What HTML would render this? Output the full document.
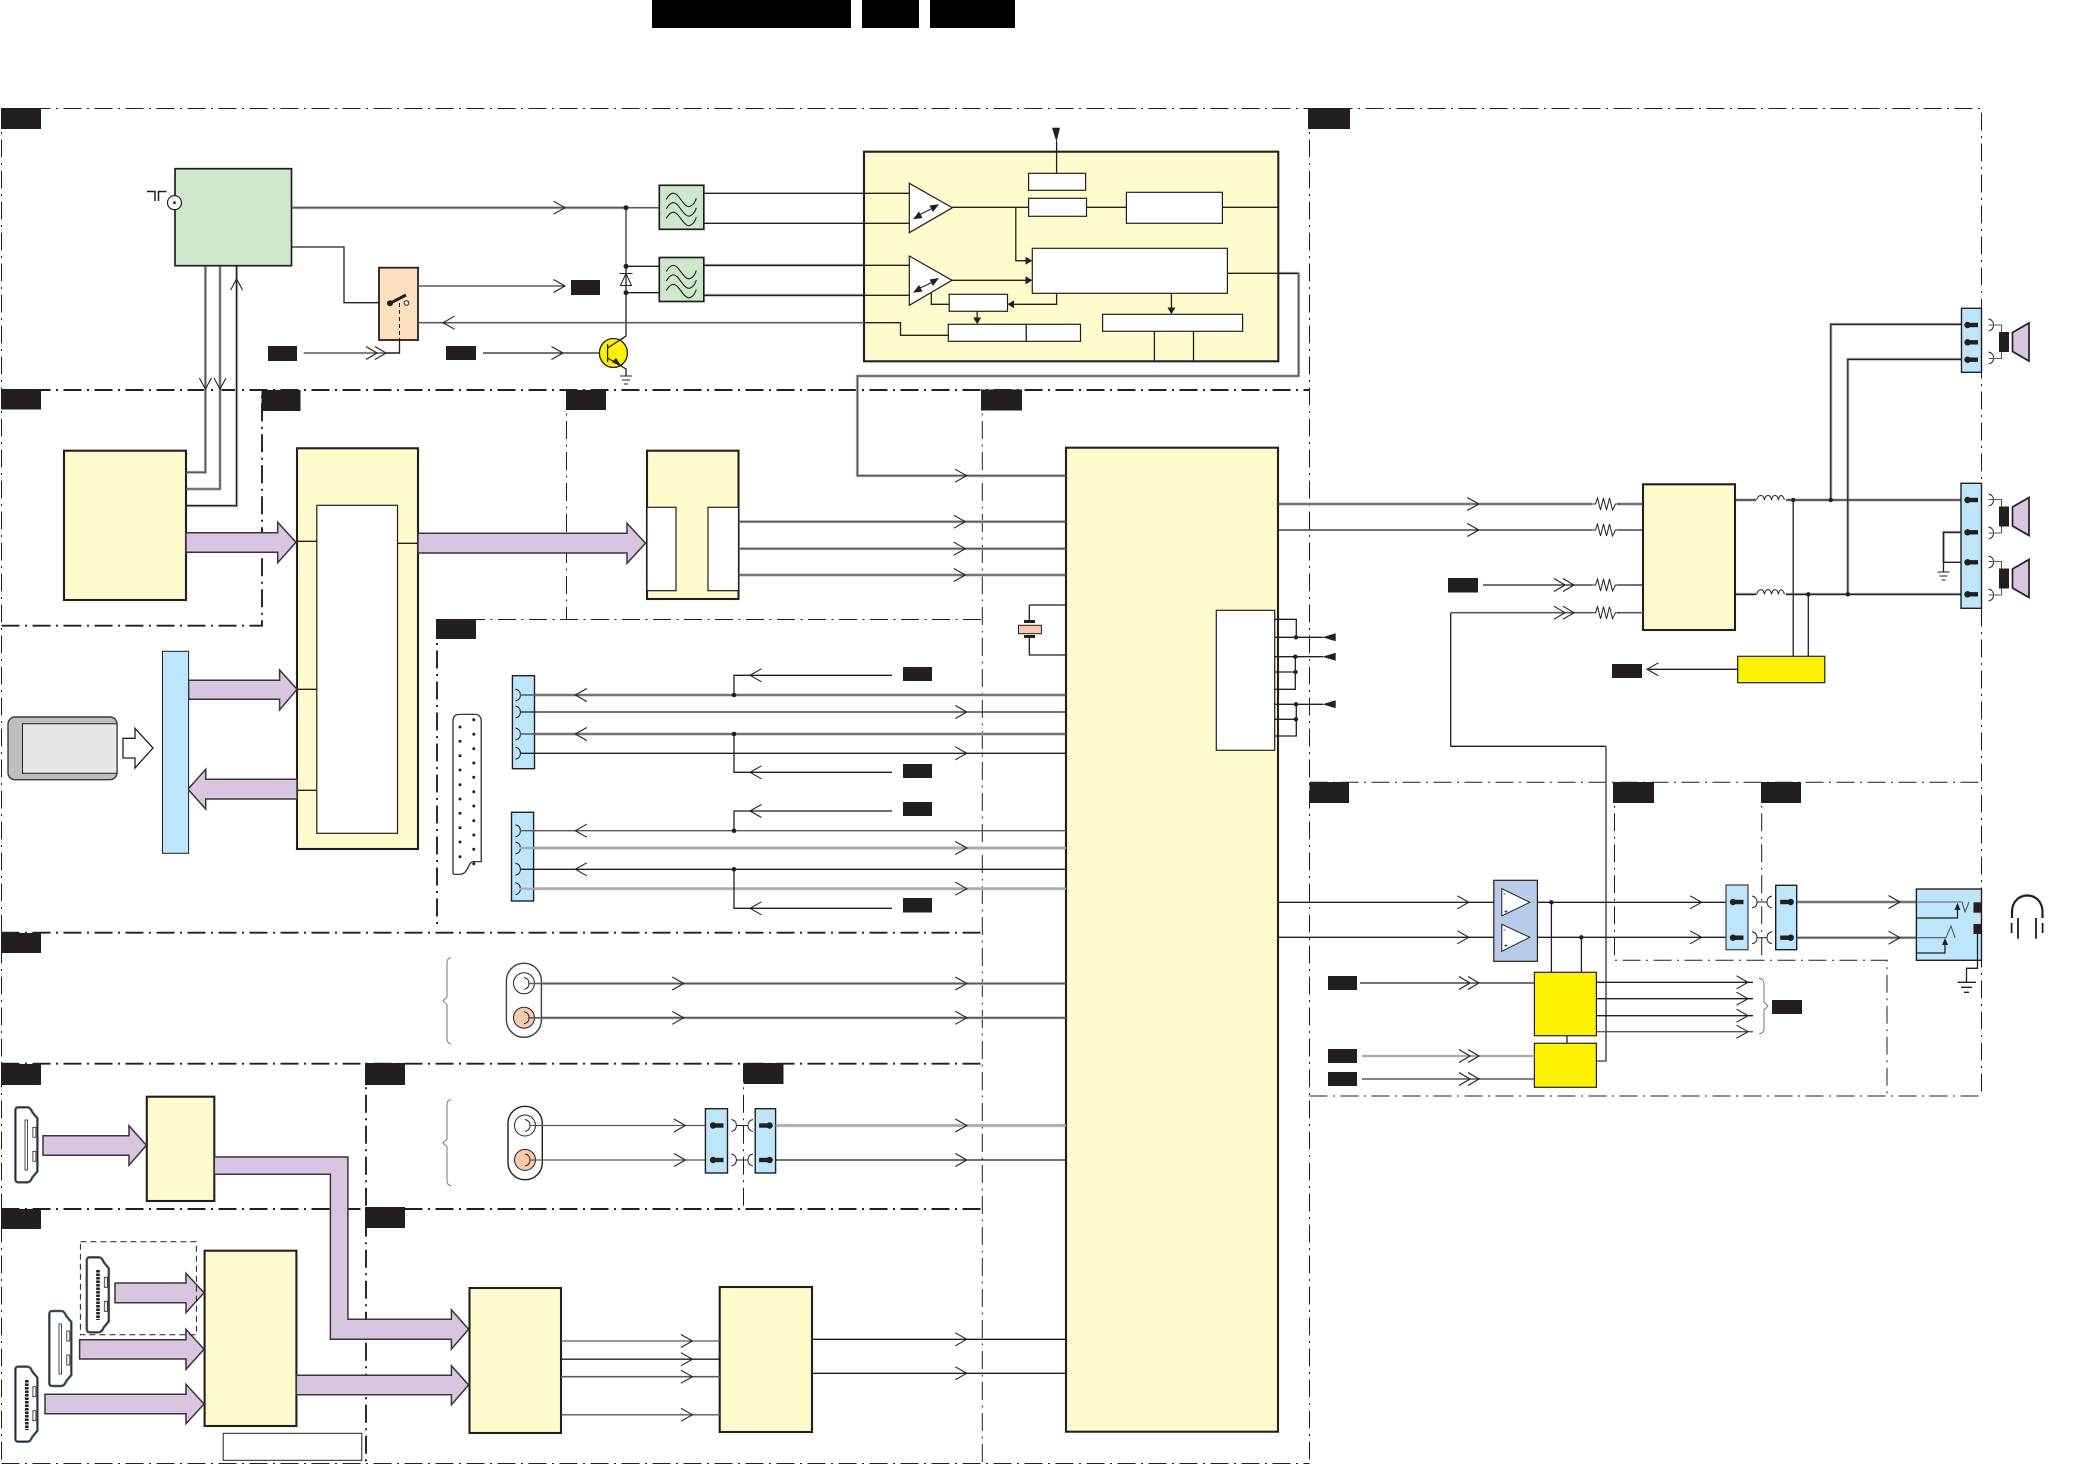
<!DOCTYPE html>
<html><head><meta charset="utf-8"><title>Block diagram</title>
<style>
html,body{margin:0;padding:0;background:#fff}
svg{display:block}
.l{stroke:#231f20;stroke-width:1.3;fill:none}
.t{stroke:#231f20;stroke-width:2;fill:none}
.m{stroke:#58595b;stroke-width:1.6;fill:none}
.h{stroke:#c4c5c6;stroke-width:3.2;fill:none}
.q{stroke:#a9aaab;stroke-width:2.2;fill:none}
.f1{stroke:#231f20;stroke-width:1;fill:none;stroke-dasharray:18 5.5 2 5.5}
.f2{stroke:#231f20;stroke-width:1.9;fill:none;stroke-dasharray:18 5.5 2 5.5}
.k{fill:#231f20;stroke:none}
.y{fill:#fffbcc;stroke:#231f20;stroke-width:2.1}
.w{fill:#fff;stroke:#231f20;stroke-width:1.2}
.g{fill:#cde8cb;stroke:#231f20;stroke-width:1.7}
.b{fill:#bde6fb;stroke:#231f20;stroke-width:1.4}
.p{fill:#d8c5e0;stroke:#3a3538;stroke-width:1.5}
.ye{fill:#fff200;stroke:#231f20;stroke-width:1.2}
.ar{stroke:#231f20;stroke-width:1.1;fill:none}
</style></head><body>
<svg width="2085" height="1468" viewBox="0 0 2085 1468" xmlns="http://www.w3.org/2000/svg">
<defs>
<path id="a" class="ar" d="M-11.500 -6.500L0 0L-11.500 6.500"/>
<path id="b" class="ar" d="M11.500 -6.500L0 0L11.500 6.500"/>
<path id="c" class="ar" d="M-6 -11L0 0L6 -11"/>
<path id="e" class="ar" d="M-6 11L0 0L6 11"/>
<g id="aa"><path class="ar" d="M-20 -6.500L-9 0L-20 6.500"/><path class="ar" d="M-11 -6.500L0 0L-11 6.500"/></g>
<path id="tr" class="k" d="M0 0L13.400 -4V4Z"/>
<g id="fi"><rect class="g" width="44.500" height="44"/><path class="l" d="M7 14C11 7 15 6 19 11S27 23 31 21S36 16 37 13M7 23.500C11 16.500 15 15.500 19 20.500S27 32.500 31 30.500S36 25.500 37 22.500M7 33C11 26 15 25 19 30S27 42 31 40S36 35 37 32" style="stroke-width:1.100"/></g>
<g id="pn"><circle class="k" r="3.200"/><rect class="k" y="-2.200" width="10.500" height="4.400"/></g>
<path id="cr" class="l" d="M0 -6Q5 -5 5 0Q5 5 0 6" style="stroke-width:1"/>
<path id="cl" class="l" d="M5 -6Q0 -5 0 0Q0 5 5 6" style="stroke-width:1"/>
<path id="res" class="l" d="M-14 0H-10L-8 -6L-5 6L-2 -6L1 6L4 -6L7 6L10 0H14" style="stroke-width:1"/>
<path id="ind" class="l" d="M-14 0C-12 -6 -7 -6 -6 0C-5 -6 0 -6 1 0C2 -6 7 -6 8 0C9 -6 12 -6 14 0" style="stroke-width:1"/>
<g id="gnd"><path class="l" d="M-6 0H6M-4 4H4M-2 8H2" style="stroke-width:1"/></g>
<g id="hd">
<path d="M3 0H12Q15 0 17 5L22 11V64L17 70Q15 75 12 75H3Q0 75 0 72V3Q0 0 3 0Z" fill="#fff" stroke="#5b7380" stroke-width="2.600"/>
<path d="M3 0H12Q15 0 17 5L22 11V64L17 70Q15 75 12 75H3Q0 75 0 72V3Q0 0 3 0Z" fill="none" stroke="#231f20" stroke-width=".9"/>
<rect class="w" x="17.500" y="20" width="3" height="10" style="stroke-width:.8"/><rect class="w" x="17.500" y="44" width="3" height="10" style="stroke-width:.8"/>
</g>
<g id="spk">
<path class="m" d="M0 -17H3M0 -17H13V-9M0 16.500H13V9" style="stroke-width:1.100"/>
<rect class="k" x="10.500" y="-10" width="10" height="20"/>
<path fill="#d8c5e0" stroke="#231f20" stroke-width="1.700" d="M24 -9.500L40.500 -19V19L24 9.500Z"/>
</g>
</defs>

<rect width="2085" height="1468" fill="#fff"/>

<!-- header -->
<rect x="652" y="0" width="199" height="28" fill="#000"/>
<rect x="862" y="0" width="57" height="28" fill="#000"/>
<rect x="930" y="0" width="85" height="28" fill="#000"/>

<!-- dashed frames -->
<path class="f1" d="M1.500 108.500H1981.500V1096M1.500 108.500V1463"/>
<path class="f2" d="M1.500 390H1309"/>
<path class="f1" d="M1309.500 108.500V1463M1.500 1463.500H1309.500"/>
<path class="f2" d="M1.500 625.700H262V390"/>
<path class="f1" d="M566.500 390V620"/>
<path class="f1" d="M436 619.500H982"/>
<path class="f2" d="M437 619.500V927"/>
<path class="f2" d="M1.500 932.700H982"/>
<path class="f2" d="M1.500 1063.700H982"/>
<path class="f2" d="M1.500 1209H982"/>
<path class="f2" d="M366 1063.700V1463"/>
<path class="f1" d="M982.300 390V1463"/>
<path class="f1" d="M743.500 1063.700V1209"/>
<path class="f1" d="M1309.500 782.300H1981.500"/>
<path class="f1" d="M1614.500 782.300V960.300H1887V1096"/>
<path class="f1" d="M1761.700 782.300V960"/>
<path class="f1" d="M1309.500 1096H1981.500"/>

<!-- tabs -->
<g class="k">
<rect x="1" y="108" width="40" height="21"/>
<rect x="1308" y="108" width="42" height="21"/>
<rect x="1" y="389" width="40" height="20.500"/>
<rect x="261.500" y="390" width="39" height="21"/>
<rect x="566" y="390" width="40" height="20"/>
<rect x="981" y="389.500" width="41" height="21"/>
<rect x="436" y="619" width="40" height="20"/>
<rect x="1" y="933" width="40" height="20"/>
<rect x="1" y="1064" width="40" height="21"/>
<rect x="365" y="1063" width="40" height="22"/>
<rect x="743.500" y="1063" width="40" height="21"/>
<rect x="1" y="1209" width="40" height="20"/>
<rect x="365" y="1207" width="40" height="21"/>
<rect x="1309.500" y="782" width="39.500" height="21"/>
<rect x="1613" y="782" width="41" height="21"/>
<rect x="1761" y="782" width="40" height="21"/>
<!-- labels -->
<rect x="571" y="280" width="29" height="15"/>
<rect x="268" y="346" width="29" height="15"/>
<rect x="446" y="346" width="30" height="14"/>
<rect x="903" y="667" width="29" height="14"/>
<rect x="903" y="764" width="29" height="14"/>
<rect x="903" y="802" width="29" height="14"/>
<rect x="903" y="898" width="29" height="14.500"/>
<rect x="1448" y="578" width="30" height="14.500"/>
<rect x="1612" y="664" width="30" height="14"/>
<rect x="1328" y="976" width="29" height="14"/>
<rect x="1328" y="1049" width="29" height="14"/>
<rect x="1328" y="1072" width="29" height="14"/>
<rect x="1772" y="1000" width="30" height="14"/>
</g>

<!-- halo lines -->
<g class="h">
<path d="M291.500 207.700H626"/>
<path d="M704 265.300H863M704 295.300H863"/>
<path d="M1278 273.300H1298.600V376H857.400V475.700H1066"/>
<path d="M205.400 266V472.300H186M220 266V489H186M236.600 266V505.700H186"/>
<path d="M738.500 521.700H1066M738.500 548.700H1066M738.500 575H1066"/>
<path d="M1278 504H1643"/>
<path d="M1735 500H1961M1735 594.300H1961"/>
<path d="M1830.800 500V324.300H1961M1847.800 594.300V359.300H1961"/>
<path d="M1943.500 562.300V532.300H1961"/>
<path d="M534 695H1066M534 734H1066"/>
<path d="M534 848H1066M534 888.700H1066"/>
<path d="M1797 902H1916M1797 937.700H1916"/>
<path d="M540 983.500H1066M540 1017.800H1066"/>
<path d="M776 1125.500H1066"/>
</g>

<!-- blocks -->
<rect class="g" x="175" y="168.700" width="116.500" height="97"/>
<rect x="379" y="267.700" width="39" height="72.300" fill="#fde0bf" stroke="#231f20" stroke-width="1.800"/>
<rect class="y" x="864" y="151.700" width="414.300" height="209.600"/>
<rect class="y" x="64" y="450.700" width="122" height="149.300"/>
<rect class="y" x="297" y="448.300" width="121" height="400.700"/>
<rect class="w" x="316.800" y="505.300" width="80.700" height="328"/>
<rect class="y" x="647" y="450.700" width="91.500" height="148.300"/>
<rect class="w" x="647" y="507.300" width="29" height="83.400"/>
<rect class="w" x="708" y="507.300" width="30.500" height="83.400"/>
<rect class="y" x="1066" y="447.700" width="212" height="984"/>
<rect class="w" x="1216.300" y="610.300" width="58.400" height="140"/>
<rect class="y" x="1643" y="484.300" width="92" height="145.700"/>
<rect class="y" x="146.800" y="1096.700" width="67.500" height="104.300"/>
<rect class="y" x="204.600" y="1250.700" width="91.800" height="175.300"/>
<rect class="y" x="469.500" y="1288" width="91.500" height="145"/>
<rect class="y" x="719.700" y="1287" width="92.300" height="145"/>

<!-- tuner IF section inner -->
<rect class="w" x="1028.600" y="173.300" width="57" height="17"/>
<rect class="w" x="1028.600" y="198.300" width="57.900" height="18"/>
<rect class="w" x="1126.400" y="192.300" width="96" height="31"/>
<rect class="w" x="1032.300" y="248.300" width="195.100" height="45"/>
<rect class="w" x="949.200" y="294.300" width="58.300" height="17"/>
<rect class="w" x="948.300" y="324.300" width="78" height="17"/>
<rect class="w" x="1026.300" y="324.300" width="54.200" height="17"/>
<rect class="w" x="1102.600" y="314.300" width="140" height="17"/>
<path class="w" d="M909.300 183.300V232.700L952.400 207.700Z"/>
<path class="w" d="M909.300 256V305.300L952 280.300Z"/>
<path class="l" d="M704 193.300H909.300M704 223.300H909.300M704 265.300H909.300M704 295.300H909.300"/>
<path class="l" d="M952.400 207.300H1028.600M1086.500 207.300H1126.400M1222.400 207.300H1278.300"/>
<path class="l" d="M1056.600 141V173.300"/>
<path class="k" d="M1052 127.700H1060L1056.500 142Z"/>
<path class="l" d="M1015.800 207.300V260.700H1026"/>
<path class="k" d="M1032.300 260.700L1025.500 256.700V264.700Z"/>
<path class="l" d="M952 280.300H1026"/>
<path class="k" d="M1032.300 280.300L1025.500 276.300V284.300Z"/>
<path class="l" d="M1056.600 293.300V304.300H1012"/>
<path class="k" d="M1007.500 304.300L1014 300.300V308.300Z"/>
<path class="l" d="M931.300 293V304.300H949.200"/>
<path class="l" d="M977.200 311.300V318"/>
<path class="k" d="M977.200 324.300L973.200 317.500H981.200Z"/>
<path class="l" d="M1171.400 293.300V308"/>
<path class="k" d="M1171.400 314.300L1167.400 307.500H1175.400Z"/>
<path class="l" d="M1154.400 331.300V361M1193.500 331.300V361"/>
<path class="l" d="M864 322.700H900.500V335.300H948.300"/>
<path class="l" d="M1227.400 273.300H1298.600"/>
<path class="l" d="M917 216L935 207" style="stroke-width:1"/><path class="k" d="M939 204.300L929.500 205.500L933 212ZM913 219.300L922.500 218L919 211.500Z"/>
<path class="l" d="M917 289.500L935 281" style="stroke-width:1"/><path class="k" d="M939 278L929.500 279.500L933 286ZM913 292.700L922.500 291.500L919 285Z"/>

<!-- filters -->
<use href="#fi" x="659.300" y="185.300"/>
<use href="#fi" x="659.300" y="257.500"/>

<!-- tuner wiring -->
<path class="m" d="M291.500 207.700H659"/>
<path class="m" d="M626 207.700V266.300"/>
<path class="l" d="M626 266.300H659M626 292.700H659M626 266.300V336L613 345"/>
<path class="l" d="M619.500 273.500H632.500M626 266V273.500M620.500 285.500H631.500L626 273.500ZM626 285.500V292" style="stroke-width:1"/>
<circle class="k" cx="626" cy="207.700" r="2.500"/><circle class="k" cx="626" cy="266.300" r="2.500"/><circle class="k" cx="626" cy="292.700" r="2.500"/>
<path class="l" d="M291.500 247H344V302.700H379"/>
<path class="m" d="M418 286H565"/>
<path class="m" d="M418 322.700H864"/>
<path class="m" d="M303.600 353H399.500"/><path class="l" d="M399.500 340V353H386"/>
<path class="l" d="M483 353H607"/>
<path class="l" d="M399.500 303V340" style="stroke-dasharray:4 3;stroke-width:1"/>
<circle class="k" cx="390" cy="303.300" r="3"/>
<path class="t" d="M390 303.300L406 295" style="stroke-width:3"/>
<circle cx="406.500" cy="303" r="2.300" fill="#fff" stroke="#231f20"/>
<use href="#a" x="565" y="207.700"/>
<use href="#a" x="565" y="286"/>
<use href="#b" x="443" y="322.700"/>
<use href="#aa" x="386" y="353"/>
<use href="#a" x="563" y="353"/>
<ellipse cx="613.400" cy="353" rx="14" ry="14.500" fill="#fff200" stroke="#231f20" stroke-width="1.300"/>
<path class="l" d="M607.600 344V362M607.600 348L626 336M607.600 358L626 369V376"/>
<path class="k" d="M622 367L612 362L616 358Z"/>
<use href="#gnd" x="626" y="376"/>

<!-- antenna -->
<ellipse cx="174.500" cy="202.700" rx="7" ry="7" fill="#fff" stroke="#231f20" stroke-width="1.200"/>
<circle class="k" cx="174.500" cy="202.700" r="1.400"/>
<path class="t" d="M147 191.500H155V201M158.500 201V191.500H166.500" style="stroke-width:1.500"/>

<!-- tuner to lower -->
<path class="m" d="M205.400 266V472.300H186M220 266V489H186"/>
<path class="l" d="M236.600 266V505.700H186"/>
<use href="#c" x="205.400" y="389"/>
<use href="#c" x="220" y="389"/>
<use href="#e" x="236.600" y="279"/>

<path class="m" d="M1298.600 273.300V376H857.400V475.700H1066"/>
<use href="#a" x="966.600" y="475.700"/>
<path class="m" d="M738.500 521.700H1066M738.500 548.700H1066M738.500 575H1066"/>
<use href="#a" x="965.300" y="521.700"/><use href="#a" x="965.300" y="548.700"/><use href="#a" x="965.300" y="575"/>
<path class="l" d="M297 541.300H316.800M397.500 543.300H418M297 689.300H316.800M297 790.300H316.800"/>

<!-- purple arrows -->
<path class="p" d="M186 532.700H277.700V522.300L296 542.300L277.700 562.700V552.300H186Z"/>
<path class="p" d="M418 533.300H627V523.300L645.500 543.300L627 563.300V553H418Z"/>
<path class="p" d="M188.600 680.300H279.600V670L297 689.300L279.600 710V699.300H188.600Z"/>
<path class="p" d="M297 779.300H205.700V769.300L188 789.300L205.700 809V799H297Z"/>
<path class="p" d="M43 1135.700H129V1125.700L146.400 1145.300L129 1165.300V1155.300H43Z"/>
<path class="p" d="M214.300 1157H347.900V1319.300H451.400V1309.700L468.600 1329.300L451.400 1349V1339.300H330.400V1174.300H214.300Z"/>
<path class="p" d="M115 1283H186V1273.300L204 1292.700L186 1312.700V1302.700H115Z"/>
<path class="p" d="M79.600 1339.700H186V1329.300L204 1349.300L186 1369.300V1359H79.600Z"/>
<path class="p" d="M45 1394.300H186V1384.300L204 1404L186 1423.700V1413.700H45Z"/>
<path class="p" d="M296.400 1375.300H451.400V1365.700L468.600 1385L451.400 1404.700V1394.700H296.400Z"/>

<!-- white arrow, tablet, bar -->
<path fill="#fff" stroke="#231f20" stroke-width="1.300" d="M123 738.300H135V728.300L153 748L135 768V758H123Z"/>
<rect x="8" y="717" width="109" height="62.700" rx="7" fill="#bcbec0" stroke="#3a3a3a" stroke-width="1.400"/>
<path fill="#e6e7e8" stroke="#231f20" stroke-width="1" d="M22.500 723.700H117V773.300H22.500Z"/>
<rect x="162.500" y="651.300" width="26.100" height="202" fill="#bde6fb" stroke="#231f20" stroke-width="1"/>

<!-- SCART -->
<path fill="#fff" stroke="#231f20" stroke-width="1.200" d="M453 721Q453 714.300 460 714.300H474Q481.200 714.300 481.200 721V861.700H473C468 862 468 874.300 460 874.300H455Q453 874.300 453 872Z"/>
<g class="k">
<circle cx="460" cy="727" r="1.500"/><circle cx="460" cy="741.300" r="1.500"/><circle cx="460" cy="755.700" r="1.500"/><circle cx="460" cy="770" r="1.500"/><circle cx="460" cy="784.700" r="1.500"/><circle cx="460" cy="799" r="1.500"/><circle cx="460" cy="813.300" r="1.500"/><circle cx="460" cy="827.700" r="1.500"/><circle cx="460" cy="842" r="1.500"/><circle cx="460" cy="856.700" r="1.500"/>
<circle cx="473.800" cy="719.700" r="1.500"/><circle cx="473.800" cy="734.300" r="1.500"/><circle cx="473.800" cy="748.700" r="1.500"/><circle cx="473.800" cy="763" r="1.500"/><circle cx="473.800" cy="777.300" r="1.500"/><circle cx="473.800" cy="791.700" r="1.500"/><circle cx="473.800" cy="806" r="1.500"/><circle cx="473.800" cy="820.700" r="1.500"/><circle cx="473.800" cy="835" r="1.500"/><circle cx="473.800" cy="849.300" r="1.500"/><circle cx="473.800" cy="863.700" r="1.500"/>
</g>

<!-- SCART connectors -->
<rect class="b" x="512.400" y="675.700" width="22.100" height="93"/>
<rect class="b" x="511.500" y="812.300" width="22.100" height="88.700"/>
<use href="#cr" x="515.400" y="695"/><use href="#cr" x="515.400" y="712"/><use href="#cr" x="515.400" y="734"/><use href="#cr" x="515.400" y="753.300"/>
<use href="#cr" x="515.400" y="830.700"/><use href="#cr" x="515.400" y="848"/><use href="#cr" x="515.400" y="869.300"/><use href="#cr" x="515.400" y="888.700"/>
<path class="m" d="M520 695H1066"/><path class="l" d="M520 712H1066"/><path class="m" d="M520 734H1066"/><path class="l" d="M520 753.300H1066"/>
<path class="m" d="M520 830.700H1066" style="stroke-width:1.300"/><path class="q" d="M520 848H1066"/><path class="l" d="M520 869.300H1066"/><path class="q" d="M520 888.700H1066"/>
<use href="#b" x="575.300" y="695"/><use href="#b" x="575.300" y="734"/><use href="#b" x="575.300" y="830.700"/><use href="#b" x="575.300" y="869.300"/>
<use href="#a" x="966.800" y="712"/><use href="#a" x="966.800" y="753.300"/><use href="#a" x="966.800" y="848"/><use href="#a" x="966.800" y="888.700"/>
<circle class="k" cx="734" cy="695" r="2.300"/><circle class="k" cx="734" cy="734" r="2.300"/><circle class="k" cx="734" cy="830.700" r="2.300"/><circle class="k" cx="734" cy="869.300" r="2.300"/>
<path class="l" d="M734 695V675.300H892M734 734V772.300H892M734 830.700V811H892M734 869.300V908.300H892"/>
<use href="#b" x="750" y="675.300"/><use href="#b" x="750" y="772.300"/><use href="#b" x="750" y="811"/><use href="#b" x="750" y="908.300"/>

<!-- capacitor -->
<path class="l" d="M1029.300 605H1066M1029.300 605V620M1029.300 637V655H1066"/>
<rect x="1024" y="620" width="11" height="3" class="k"/>
<rect x="1018.500" y="625.300" width="22.900" height="8.400" fill="#f9c9ae" stroke="#231f20"/>
<rect x="1024" y="635" width="11" height="3" class="k"/>

<!-- main block right pins -->
<path class="l" d="M1274.700 619.300H1296.300V637.300M1274.700 637.300H1323M1274.700 656.700H1323M1295.300 656.700V689.300H1274.700M1274.700 672H1295.300M1274.700 704.300H1323M1296.300 704.300V736H1274.700M1274.700 719.300H1296.300"/>
<g class="k"><circle cx="1296" cy="637.300" r="2.200"/><circle cx="1295.300" cy="656.700" r="2.200"/><circle cx="1295.500" cy="672" r="2.200"/><circle cx="1296" cy="704.300" r="2.200"/><circle cx="1296" cy="719.300" r="2.200"/></g>
<use href="#tr" x="1322.300" y="637.300"/><use href="#tr" x="1322.300" y="656.700"/><use href="#tr" x="1322.300" y="704.300"/>

<!-- RCA -->
<path class="l" d="M451 957.700Q447 958 447 963V997L443 1000.800L447 1004.800V1039Q447 1043 451 1044" style="stroke:#777;stroke-width:1"/>
<rect x="506.400" y="963.300" width="35" height="74" rx="17.500" fill="#fff" stroke="#4a4a4a" stroke-width="1.500"/>
<circle cx="524" cy="983.300" r="10.500" fill="#fff" stroke="#231f20"/>
<circle cx="524" cy="1017.700" r="10.500" fill="#f9c9ae" stroke="#231f20"/>
<use href="#cr" x="524" y="983.500"/><use href="#cr" x="524" y="1017.800"/>
<path class="m" d="M528 983.500H1066M528 1017.800H1066"/>
<use href="#a" x="683.700" y="983.500"/><use href="#a" x="683.700" y="1017.800"/>
<use href="#a" x="966.800" y="983.500"/><use href="#a" x="966.800" y="1017.800"/>

<path class="l" d="M451 1099.600Q447 1100 447 1105V1139L443 1142.800L447 1146.800V1181Q447 1185 451 1185.800" style="stroke:#777;stroke-width:1"/>
<rect x="508" y="1106.300" width="34.300" height="73.400" rx="17" fill="#fff" stroke="#231f20" stroke-width="1.400"/>
<circle cx="525" cy="1125.500" r="10.500" fill="#fff" stroke="#231f20"/>
<circle cx="525" cy="1159.900" r="10.500" fill="#f9c9ae" stroke="#231f20"/>
<use href="#cr" x="525" y="1125.500"/><use href="#cr" x="525" y="1160"/>
<path class="m" d="M530 1125.500H705.400M530 1160H705.400" style="stroke-width:1.300"/>
<use href="#a" x="685.400" y="1125.500"/><use href="#a" x="685.400" y="1160"/>
<rect class="b" x="705.400" y="1108.700" width="22.100" height="64.300"/>
<rect class="b" x="755.200" y="1108.700" width="20.400" height="64.300"/>
<use href="#pn" x="713" y="1125.500"/><use href="#pn" x="713" y="1160"/>
<use href="#pn" transform="translate(769.600,1125.500) scale(-1,1)"/><use href="#pn" transform="translate(769.600,1160) scale(-1,1)"/>
<use href="#cr" x="731.400" y="1125.500"/><use href="#cr" x="731.400" y="1160"/>
<use href="#cl" x="748" y="1125.500"/><use href="#cl" x="748" y="1160"/>
<path class="l" d="M736 1125.500H748M736 1160H748" style="stroke-width:1"/>
<path class="q" d="M775.600 1125.500H1066"/><path class="l" d="M775.600 1160H1066"/>
<use href="#a" x="966.800" y="1125.500"/><use href="#a" x="966.800" y="1160"/>

<!-- bottom links -->
<path class="m" d="M561 1341H719.700" style="stroke-width:1.300"/><path class="l" d="M561 1359.200H719.700"/><path class="m" d="M561 1376.700H719.700"/><path class="m" d="M561 1414.800H719.700" style="stroke-width:1.300"/>
<use href="#a" x="692.400" y="1341"/><use href="#a" x="692.400" y="1359.200"/><use href="#a" x="692.400" y="1376.700"/><use href="#a" x="692.400" y="1414.800"/>
<path class="l" d="M812 1339.300H1066M812 1373.300H1066"/>
<use href="#a" x="966.800" y="1339.300"/><use href="#a" x="966.800" y="1373.300"/>
<rect class="w" x="223.200" y="1433.300" width="138.600" height="27" style="stroke-width:1"/>
<rect x="80.400" y="1241.700" width="116" height="93" fill="none" stroke="#231f20" stroke-width="1" stroke-dasharray="6 4"/>

<!-- HDMI -->
<use href="#hd" x="15.400" y="1107.300"/><rect class="w" x="25" y="1120" width="2.500" height="50" style="stroke-width:.8"/>
<use href="#hd" x="86.800" y="1257.300"/><path d="M98 1270V1320" stroke="#231f20" stroke-width="3.600" stroke-dasharray="2.500 1" fill="none"/>
<use href="#hd" x="49.300" y="1311"/><rect class="w" x="59" y="1324" width="2.500" height="50" style="stroke-width:.8"/>
<use href="#hd" x="15.400" y="1366.700"/><path d="M26.800 1380V1430" stroke="#231f20" stroke-width="3.600" stroke-dasharray="2.500 1" fill="none"/>

<!-- audio amp top right -->
<path class="m" d="M1278 504H1643"/>
<path class="l" d="M1278 530H1643M1483 585H1643"/>
<path class="m" d="M1450.700 612.700H1643"/>
<path class="l" d="M1450.700 612.700V746.300H1606"/><path class="m" d="M1606 746.300V1061H1596.400"/>
<use href="#a" x="1478.800" y="504"/><use href="#a" x="1478.800" y="530"/>
<use href="#aa" x="1574" y="585"/><use href="#aa" x="1574" y="612.700"/>
<g fill="#fff"><rect x="1592" y="498" width="26" height="12"/><rect x="1592" y="524" width="26" height="12"/><rect x="1592" y="579" width="26" height="12"/><rect x="1592" y="606.700" width="26" height="12"/></g>
<use href="#res" x="1605.500" y="504"/><use href="#res" x="1605.500" y="530"/><use href="#res" x="1605.500" y="585"/><use href="#res" x="1605.500" y="612.700"/>
<path class="l" d="M1735 500H1961M1735 594.300H1961"/>
<rect x="1756" y="494" width="30" height="9" fill="#fff"/><rect x="1756" y="588" width="30" height="9" fill="#fff"/>
<use href="#ind" x="1770.500" y="500"/><use href="#ind" x="1770.500" y="594.300"/>
<path class="l" d="M1793.200 500V656.300M1808.300 594.300V656.300"/>
<path class="l" d="M1830.800 500V324.300H1961M1847.800 594.300V359.300H1961"/>
<g class="k"><circle cx="1793.200" cy="500" r="2.200"/><circle cx="1830.800" cy="500" r="2.200"/><circle cx="1808.300" cy="594.300" r="2.200"/><circle cx="1847.800" cy="594.300" r="2.200"/></g>
<rect class="ye" x="1737.700" y="656.300" width="87.100" height="26.400"/>
<path class="l" d="M1737.700 669.300H1647"/><use href="#b" x="1647" y="669.300"/>

<rect class="b" x="1961.500" y="308.300" width="20" height="64"/>
<rect class="b" x="1961" y="483.300" width="20.500" height="125"/>
<use href="#pn" x="1967.500" y="325"/><use href="#pn" x="1967.500" y="342.300"/><use href="#pn" x="1967.500" y="359.700"/>
<use href="#pn" x="1967.500" y="500"/><use href="#pn" x="1967.500" y="532.300"/><use href="#pn" x="1967.500" y="562.300"/><use href="#pn" x="1967.500" y="594.300"/>
<path class="l" d="M1961 532.300H1943.500V571.700M1943.500 562.300H1961"/>
<use href="#gnd" x="1943.500" y="572"/>
<use href="#cr" x="1988.500" y="325"/><use href="#cr" x="1988.500" y="358"/>
<use href="#spk" x="1988.500" y="342"/>
<use href="#cr" x="1988.500" y="500"/><use href="#cr" x="1988.500" y="533"/>
<use href="#spk" x="1988.500" y="516.500"/>
<use href="#cr" x="1988.500" y="562"/><use href="#cr" x="1988.500" y="595"/>
<use href="#spk" x="1988.500" y="578.500"/>

<!-- headphone section -->
<path class="l" d="M1278 902.300H1493.800M1278 937.300H1493.800"/>
<use href="#a" x="1468.800" y="902.300"/><use href="#a" x="1468.800" y="937.300"/>
<rect x="1493.800" y="880.300" width="43.600" height="81" fill="#b8cce9" stroke="#231f20" stroke-width="1.200"/>
<path class="w" d="M1501.800 888.700V916L1529.800 902.300Z" style="stroke-width:1"/><path class="w" d="M1501.800 924.300V951.300L1529.800 937.300Z" style="stroke-width:1"/>
<path class="l" d="M1503.500 894H1505.500M1506 910V913M1504.500 911.500H1507.500M1503.500 930H1505.500M1506 944V947M1504.500 945.500H1507.500" style="stroke-width:.7"/>
<path class="l" d="M1537.400 902.300H1726M1537.400 937.300H1726"/>
<use href="#a" x="1701.600" y="902.300"/><use href="#a" x="1701.600" y="937.300"/>
<circle class="k" cx="1551.400" cy="902.300" r="2.200"/><circle class="k" cx="1581.400" cy="937.300" r="2.200"/>
<path class="l" d="M1551.400 902.300V972.300M1581.400 937.300V972.300M1567 1035.700V1043.300"/>
<rect class="ye" x="1534.400" y="972.300" width="62" height="63.400"/>
<rect class="ye" x="1534.400" y="1043.300" width="62" height="44"/>
<path class="l" d="M1360 983H1534.400"/>
<path class="q" d="M1362 1056H1534.400"/>
<path class="m" d="M1362 1079H1534.400"/>
<use href="#aa" x="1479" y="983"/><use href="#aa" x="1479" y="1056"/><use href="#aa" x="1479" y="1079"/>
<path class="l" d="M1596.400 982.300H1753M1596.400 998.700H1753M1596.400 1015.700H1753"/>
<path class="m" d="M1596.400 1031.700H1753" style="stroke-width:1.300"/>
<use href="#a" x="1748" y="982.300"/><use href="#a" x="1748" y="998.700"/><use href="#a" x="1748" y="1015.700"/><use href="#a" x="1748" y="1031.700"/>
<path class="l" d="M1759 978Q1764 979 1764 984V1002L1768 1006L1764 1010V1028Q1764 1033 1759 1034" style="stroke:#777;stroke-width:1"/>
<rect class="b" x="1726" y="885" width="22" height="64.700" style="stroke:#555"/>
<rect class="b" x="1775.700" y="885.300" width="21" height="64.400"/>
<use href="#pn" x="1733" y="902"/><use href="#pn" x="1733" y="937.700"/>
<use href="#pn" transform="translate(1790.700,902) scale(-1,1)"/><use href="#pn" transform="translate(1790.700,937.700) scale(-1,1)"/>
<use href="#cr" x="1752" y="902"/><use href="#cr" x="1752" y="937.700"/>
<use href="#cl" x="1767" y="902"/><use href="#cl" x="1767" y="937.700"/>
<path class="l" d="M1757 902H1767M1757 937.700H1767" style="stroke-width:1"/>
<path class="m" d="M1797 902H1916M1797 937.700H1916"/>
<use href="#a" x="1900" y="902"/><use href="#a" x="1900" y="937.700"/>
<rect class="b" x="1916.400" y="889" width="65.100" height="71.300"/>
<path class="m" d="M1916.400 902H1962L1965 912L1969 902" style="stroke-width:1.100"/>
<path class="m" d="M1916.400 937.700H1946L1951 926L1955 937.700" style="stroke-width:1.100"/>
<path class="l" d="M1916.400 918H1957.500V908M1916.400 953H1945V944"/>
<path class="k" d="M1957.500 902.700L1954.500 910H1960.500ZM1945 938L1942 945H1948Z"/>
<rect class="k" x="1973.500" y="902.300" width="8" height="10.400"/>
<rect class="k" x="1973.500" y="924" width="8" height="10"/>
<path class="l" d="M1977.500 934V968.300H1966.500V982.300"/>
<path class="l" d="M1957.500 982.300H1976M1961 987.300H1972M1964 992.300H1969"/>
<path class="t" d="M2012 918V912C2012 890 2042.500 890 2042.500 912V918" style="stroke-width:2.200"/>
<path class="l" d="M2011.600 923V933M2018 918V938.700M2036 918V938.700M2042.600 923V933" style="stroke-width:1.800"/>
</svg>
</body></html>
